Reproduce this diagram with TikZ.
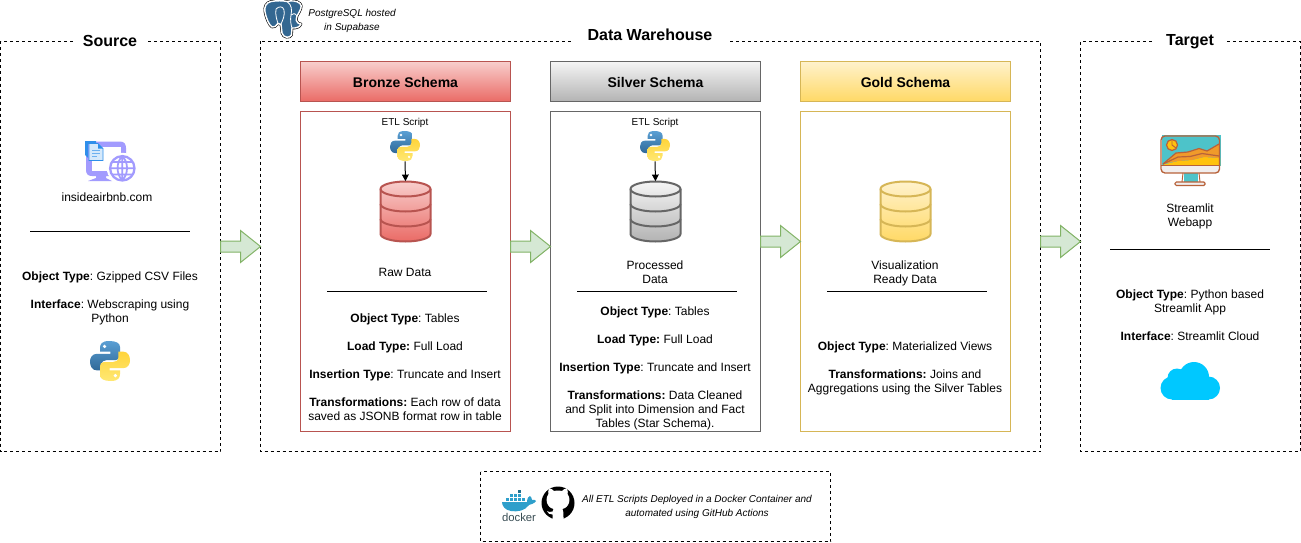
\documentclass[tikz,border=0pt]{standalone}
\usepackage{fontspec}
\setmainfont{Liberation Sans}
\usetikzlibrary{arrows.meta}
\frenchspacing
\definecolor{brS}{HTML}{B85450}\definecolor{brT}{HTML}{F8CECC}\definecolor{brB}{HTML}{EA6B66}
\definecolor{siS}{HTML}{666666}\definecolor{siT}{HTML}{F5F5F5}\definecolor{siB}{HTML}{B3B3B3}
\definecolor{goS}{HTML}{D6B656}\definecolor{goT}{HTML}{FFF2CC}\definecolor{goB}{HTML}{FFD966}
\definecolor{arF}{HTML}{D5E8D4}\definecolor{arS}{HTML}{82B366}
\definecolor{pgB}{HTML}{336791}\definecolor{pyB1}{HTML}{5A9FD4}\definecolor{pyB2}{HTML}{306998}
\definecolor{pyY1}{HTML}{FFE873}\definecolor{pyY2}{HTML}{FFD43B}
\definecolor{webP}{HTML}{A29BFE}\definecolor{webB}{HTML}{2F8FEA}\definecolor{cloudC}{HTML}{00C8FF}
\definecolor{stTeal}{HTML}{4DC3C9}\definecolor{stBr}{HTML}{B8623A}\definecolor{stYe}{HTML}{FFC20E}\definecolor{stOr}{HTML}{F09A2A}\definecolor{stWh}{HTML}{F1EEEE}
\definecolor{whale}{HTML}{2E9FCB}\definecolor{dockT}{HTML}{394D54}
\tikzset{
  x=0.75pt,y=-0.75pt,
  txt/.style={inner sep=0pt,align=center,font=\fontsize{9}{10.5}\selectfont},
  small/.style={inner sep=0pt,align=center,font=\fontsize{7.5}{10.5}\selectfont},
  smallit/.style={inner sep=0pt,align=center,font=\fontsize{7.5}{10.5}\selectfont\itshape},
  frame/.style={draw=black,line width=0.75pt,dash pattern=on 2.25pt off 2.25pt},
  title/.style={fill=white,inner sep=0pt,font=\fontsize{12}{14}\selectfont\bfseries,text height=9pt,text depth=2.6pt},
  head/.style={font=\fontsize{10.5}{12}\selectfont\bfseries,line width=0.75pt,inner sep=0pt,minimum width=157.5pt,minimum height=30pt,text height=8.5pt,text depth=0pt},
  bodybox/.style={line width=0.75pt,draw},
  rule/.style={draw=black,line width=0.75pt},
  blockarrow/.style={draw=arS,fill=arF,line width=0.75pt},
  flow/.style={draw=black,line width=0.75pt,-{Triangle[length=5pt,width=5pt]}},
  pylogo/.pic={
    \path[top color=pyB1,bottom color=pyB2]
      (-0.05,-1) .. controls (-0.4,-1) and (-0.5,-0.85) .. (-0.5,-0.65) -- (-0.5,-0.47) -- (0.02,-0.47) -- (0.02,-0.36)
      -- (-0.65,-0.36) .. controls (-0.9,-0.36) and (-1,-0.15) .. (-1,0.02) .. controls (-1,0.25) and (-0.9,0.47) .. (-0.65,0.47)
      -- (-0.42,0.47) -- (-0.42,0.2) .. controls (-0.42,0.02) and (-0.3,-0.05) .. (-0.15,-0.05) -- (0.3,-0.05)
      .. controls (0.43,-0.05) and (0.5,-0.15) .. (0.5,-0.25) -- (0.5,-0.7) .. controls (0.5,-0.9) and (0.3,-1) .. (-0.05,-1) -- cycle;
    \fill[white] (-0.27,-0.73) circle (0.09);
    \begin{scope}[xscale=-1,yscale=-1]
    \path[top color=pyY2,bottom color=pyY1]
      (-0.05,-1) .. controls (-0.4,-1) and (-0.5,-0.85) .. (-0.5,-0.65) -- (-0.5,-0.47) -- (0.02,-0.47) -- (0.02,-0.36)
      -- (-0.65,-0.36) .. controls (-0.9,-0.36) and (-1,-0.15) .. (-1,0.02) .. controls (-1,0.25) and (-0.9,0.47) .. (-0.65,0.47)
      -- (-0.42,0.47) -- (-0.42,0.2) .. controls (-0.42,0.02) and (-0.3,-0.05) .. (-0.15,-0.05) -- (0.3,-0.05)
      .. controls (0.43,-0.05) and (0.5,-0.15) .. (0.5,-0.25) -- (0.5,-0.7) .. controls (0.5,-0.9) and (0.3,-1) .. (-0.05,-1) -- cycle;
    \fill[white] (-0.27,-0.73) circle (0.09);
    \end{scope}
  },
  blockpic/.pic={
    \path[blockarrow] (0,-5.5) -- (20,-5.5) -- (20,-16) -- (40,0) -- (20,16) -- (20,5.5) -- (0,5.5) -- cycle;
  }
}
% centre x, top y, top colour, bottom colour, stroke
\newcommand{\dbshape}[5]{%
  \begin{scope}[shift={(#1,#2)}]
    \path[top color=#3,bottom color=#4] (-25,7.5) -- (-25,52.5) .. controls (-25,56.6) and (-13.8,60) .. (0,60) .. controls (13.8,60) and (25,56.6) .. (25,52.5) -- (25,7.5) .. controls (25,3.4) and (13.8,0) .. (0,0) .. controls (-13.8,0) and (-25,3.4) .. (-25,7.5) -- cycle;
    \draw[draw=#5,line width=1.5pt] (-25,7.5) -- (-25,52.5) .. controls (-25,56.6) and (-13.8,60) .. (0,60) .. controls (13.8,60) and (25,56.6) .. (25,52.5) -- (25,7.5) .. controls (25,3.4) and (13.8,0) .. (0,0) .. controls (-13.8,0) and (-25,3.4) .. (-25,7.5) -- cycle;
    \foreach \yy in {7.5,22.5,37.5}{
      \draw[draw=#5,line width=1.5pt] (-25,\yy) .. controls (-25,\yy+4.1) and (-13.8,\yy+7.5) .. (0,\yy+7.5) .. controls (13.8,\yy+7.5) and (25,\yy+4.1) .. (25,\yy);
    }
  \end{scope}}
\newcommand{\elephantpath}{(271,1.5) .. controls (266,2.5) and (264,7) .. (265,12) .. controls (266,18) and (269,25) .. (272,27) .. controls (274,28) and (276,26) .. (278,23.5) -- (281,24.5) -- (282,33) .. controls (283,38) and (290,38.5) .. (291.5,35) -- (292,28) .. controls (296,28.5) and (300,27) .. (301,24) -- (298,23) .. controls (296,22) and (296,20) .. (297,16) .. controls (300,11) and (303,6) .. (300,3.5) .. controls (297,0.5) and (291,0.5) .. (287,1.5) .. controls (283,0.5) and (276,0.5) .. (271,1.5) -- cycle}
\begin{document}
\begin{tikzpicture}[x=0.75pt,y=-0.75pt]
\useasboundingbox (0,0) rectangle (1301,542);
\fill[white] (0,0) rectangle (1301,542);

% frames
\path[frame] (0.5,41.5) rectangle (220.5,451.5);
\path[frame] (260.5,41.5) rectangle (1040.5,451.5);
\path[frame] (1080.5,42) rectangle (1300.5,451.5);
\path[frame] (480.5,471.5) rectangle (830.5,541.5);
\node[title,minimum width=54pt,minimum height=14pt] (srcT) at (110,42) {Source};
\node[title,minimum width=117pt,minimum height=14pt] (dwT) at (650,36.5) {Data Warehouse};
\node[title,minimum width=52pt,minimum height=14pt] (tgtT) at (1190,41) {Target};

% postgres
\draw[black,line width=2pt,line join=round] \elephantpath;
\draw[white,line width=1.1pt,line join=round,fill=pgB] \elephantpath;
\draw[white,line width=0.6pt] (276,9) .. controls (275,15) and (277,20) .. (278,23.5);
\draw[white,line width=0.6pt] (276,9) .. controls (279,6) and (283,6) .. (284,10) .. controls (285,15) and (283,20) .. (281,24);
\draw[white,line width=0.6pt] (287,1.5) .. controls (292,5) and (292,10) .. (291,15) .. controls (290,20) and (291,25) .. (292,28);
\draw[white,line width=0.6pt] (297,16) .. controls (295,13) and (293,13) .. (291,15);
\node[smallit] (pgText) at (352,21) {PostgreSQL hosted\\in Supabase};

% source column
\begin{scope}
  \fill[webP] (93,141.5) -- (120,141.5) .. controls (124,141.5) and (126,144) .. (126,148) -- (126,172) -- (112,176) -- (106,176) -- (106,178) -- (112,181) -- (88,181) -- (96,178) -- (96,176) -- (92,176) .. controls (88,176) and (86,174) .. (86,170) -- (86,148) .. controls (86,144) and (88,141.5) .. (93,141.5) -- cycle;
  \fill[white] (91.5,146.5) rectangle (120.5,171);
  \fill[webB] (85,141) -- (96,141) -- (96,144) -- (88,144) -- (88,158) -- (85,155) -- cycle;
  \fill[webB!20!white,draw=webB,line width=0.5pt] (89,143.5) -- (98,143.5) -- (103,148.5) -- (103,160.5) -- (89,160.5) -- cycle;
  \fill[webB] (98,143.5) -- (103,148.5) -- (98,148.5) -- cycle;
  \draw[webB!70!white,line width=0.6pt] (92,150) -- (100,150) (92,153) -- (100,153) (92,156) -- (97,156);
  \fill[white] (122.3,168.3) circle (15.5);
  \draw[webP,line width=1.7pt] (122.3,168.3) circle (12.2);
  \draw[webP,line width=1.3pt] (122.3,156.3) .. controls (116,162) and (116,174) .. (122.3,180.3) (122.3,156.3) .. controls (128.6,162) and (128.6,174) .. (122.3,180.3) (122.3,156.3) -- (122.3,180.3) (110.3,168.3) -- (134.3,168.3) (112,162) -- (132.6,162) (112,174.6) -- (132.6,174.6);
\end{scope}
\node[txt] (srcName) at (107,197) {insideairbnb.com};
\coordinate (srcL) at (30,231.5); \coordinate (srcR) at (190,231.5);
\draw[rule] (srcL) -- (srcR);
\node[txt] (srcInfo) at (110,298) {\textbf{Object Type}: Gzipped CSV Files\\[10.5pt]\textbf{Interface}: Webscraping using\\Python};
\node[inner sep=0pt,minimum size=30pt] (srcPy) at (110,361) {};
\pic[scale=20] at (srcPy) {pylogo};

% bronze
\node[head,draw=brS,top color=brT,bottom color=brB] (brH) at (405.5,81.5) {Bronze Schema};
\path[bodybox,draw=brS] (300.5,111.5) rectangle (510.5,431.5);
\node[small] (brE) at (405,122.5) {ETL Script};
\node[inner sep=0pt,minimum size=22.5pt] (brPy) at (405,146) {};
\pic[scale=15] at (brPy) {pylogo};
\dbshape{405.5}{181.5}{brT}{brB}{brS}
\node[inner sep=0pt,minimum width=37.5pt,minimum height=45pt] (brDb) at (405.5,211.5) {};
\draw[flow] (brPy.south) -- (brDb.north);
\node[txt] (brN) at (405,272) {Raw Data};
\coordinate (brL) at (327,291.5); \coordinate (brR) at (487,291.5);
\draw[rule] (brL) -- (brR);
\node[txt] (brI) at (405,367) {\textbf{Object Type}: Tables\\[10.5pt]\textbf{Load Type:} Full Load\\[10.5pt]\textbf{Insertion Type}: Truncate and Insert\\[10.5pt]\textbf{Transformations:} Each row of data\\saved as JSONB format row in table};

% silver
\node[head,draw=siS,top color=siT,bottom color=siB] (siH) at (655.5,81.5) {Silver Schema};
\path[bodybox,draw=siS] (550.5,111.5) rectangle (760.5,431.5);
\node[small] (siE) at (655,122.5) {ETL Script};
\node[inner sep=0pt,minimum size=22.5pt] (siPy) at (655,146) {};
\pic[scale=15] at (siPy) {pylogo};
\dbshape{655.5}{181.5}{siT}{siB}{siS}
\node[inner sep=0pt,minimum width=37.5pt,minimum height=45pt] (siDb) at (655.5,211.5) {};
\draw[flow] (siPy.south) -- (siDb.north);
\node[txt] (siN) at (655,272) {Processed\\Data};
\coordinate (siL) at (577,291.5); \coordinate (siR) at (737,291.5);
\draw[rule] (siL) -- (siR);
\node[txt] (siI) at (655,368) {\textbf{Object Type}: Tables\\[10.5pt]\textbf{Load Type:} Full Load\\[10.5pt]\textbf{Insertion Type}: Truncate and Insert\\[10.5pt]\textbf{Transformations:} Data Cleaned\\and Split into Dimension and Fact\\Tables (Star Schema).};

% gold
\node[head,draw=goS,top color=goT,bottom color=goB] (goH) at (905.5,81.5) {Gold Schema};
\path[bodybox,draw=goS] (800.5,111.5) rectangle (1010.5,431.5);
\dbshape{905.5}{181.5}{goT}{goB}{goS}
\node[txt] (goN) at (905,273) {Visualization\\Ready Data};
\coordinate (goL) at (827,291.5); \coordinate (goR) at (987,291.5);
\draw[rule] (goL) -- (goR);
\node[txt] (goI) at (905,368) {\textbf{Object Type}: Materialized Views\\[10.5pt]\textbf{Transformations:} Joins and\\Aggregations using the Silver Tables};

% target
\begin{scope}
  \fill[stTeal] (1162,134.5) rectangle (1221,166);
  \fill[stYe] (1162,165) -- (1178,161) -- (1192,160) -- (1204,157) -- (1220,158) -- (1220,166) -- (1162,166) -- cycle;
  \fill[stOr] (1163,164) -- (1176,153) -- (1188,152) -- (1199,148.5) -- (1207,151) -- (1219,144) -- (1219,158) -- (1204,157) -- (1192,160) -- (1178,161) -- cycle;
  \draw[stBr,line width=0.9pt,line join=round] (1163,164) -- (1176,153) -- (1188,152) -- (1199,148.5) -- (1207,151) -- (1219,144);
  \draw[stBr,line width=0.9pt,line join=round] (1163,164) -- (1178,157) -- (1190,156.5) -- (1202,153.5) -- (1219,156);
  \fill[stWh] (1162,165) rectangle (1219,173);
  \fill[stYe] (1172,145) circle (5.5);
  \draw[stBr,line width=0.9pt] (1172,145) circle (5.5);
  \draw[stBr,line width=0.7pt] (1172,140) -- (1172,145) -- (1176,148);
  \fill[stTeal] (1184,173) rectangle (1198,182);
  \draw[stBr,line width=0.7pt] (1183,173) -- (1182,182) (1199,173) -- (1200,182);
  \draw[stBr,line width=0.9pt,fill=stWh,rounded corners=1pt] (1175,182) rectangle (1205,185.5);
  \draw[stBr,line width=1pt,rounded corners=3pt] (1161,136) rectangle (1219.5,173);
  \draw[stBr,line width=0.7pt] (1161,165) -- (1219.5,165);
\end{scope}
\node[txt] (tgN) at (1190,216) {Streamlit\\Webapp};
\coordinate (tgL) at (1110,249.5); \coordinate (tgR) at (1270,249.5);
\draw[rule] (tgL) -- (tgR);
\node[txt] (tgI) at (1190,315) {\textbf{Object Type}: Python based\\Streamlit App\\[10.5pt]\textbf{Interface}: Streamlit Cloud};
\begin{scope}
  \fill[cloudC] (1172,388) circle (11.5);
  \fill[cloudC] (1177,378) circle (9.5);
  \fill[cloudC] (1194,377) circle (15);
  \fill[cloudC] (1208.5,388) circle (11.5);
  \fill[cloudC] (1172,385) rectangle (1208.5,399.5);
\end{scope}

% block arrows
\pic at (220.5,246.5) {blockpic};
\pic at (510.5,246.5) {blockpic};
\pic at (760.5,241.5) {blockpic};
\pic at (1040.5,241.5) {blockpic};

% footer
\begin{scope}
  \fill[whale] (502,502) -- (527,502) .. controls (527,498) and (529,496) .. (530,496) .. controls (531,497) and (532,498) .. (532,500) .. controls (534,499) and (535,500) .. (536,501) .. controls (534,504) and (531,504) .. (529,505) .. controls (525,511) and (517,512) .. (511,511) .. controls (505,510) and (502,506) .. (502,502) -- cycle;
  \foreach \xx in {506,510,514,518,522}{\fill[whale] (\xx,498) rectangle +(3.2,3.2);}
  \foreach \xx in {510,514,518}{\fill[whale] (\xx,494) rectangle +(3.2,3.2);}
  \fill[whale!70!black] (518,490) rectangle +(3.2,3.2);
\end{scope}
\node[inner sep=0pt,font=\fontsize{8.5}{9}\selectfont,text=dockT] (dock) at (519,517) {docker};
\fill[black] (558,503) circle (16.5);
\fill[white] (549,488.5) .. controls (551,488) and (553,490) .. (554,491) .. controls (556,490.5) and (560,490.5) .. (562,491) .. controls (563,490) and (565,488) .. (567,488.5) .. controls (568,491) and (568,493) .. (567.5,494) .. controls (570,497) and (570,502) .. (568,505) .. controls (566,508) and (564,508.5) .. (562.5,509) .. controls (563.5,510.5) and (563.5,513) .. (563.5,519.8) -- (552.5,519.8) -- (552.5,514.5) .. controls (549.5,515) and (548,513) .. (547,511) .. controls (548.5,511.5) and (550,513) .. (552.5,511.5) .. controls (552.5,510.5) and (552.8,509.5) .. (553.5,509) .. controls (552,508.5) and (550,508) .. (548,505) .. controls (546,502) and (546,497) .. (548.5,494) .. controls (548,493) and (548,491) .. (549,488.5) -- cycle;
\node[smallit] (footT) at (697,507) {All ETL Scripts Deployed in a Docker Container and\\automated using GitHub Actions};
\end{tikzpicture}
\end{document}
